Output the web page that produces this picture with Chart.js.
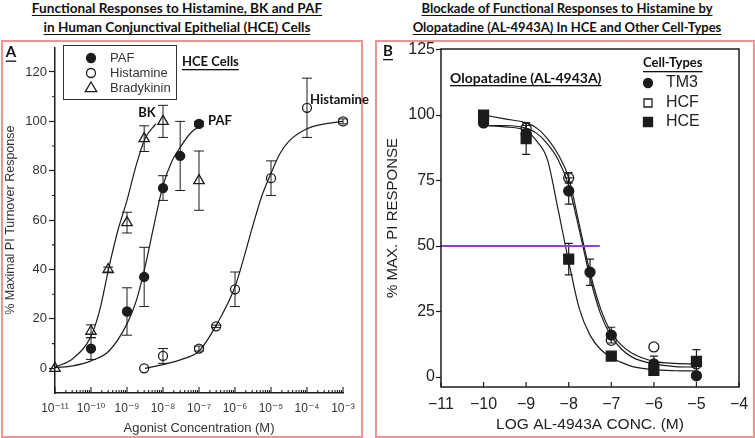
<!DOCTYPE html>
<html>
<head>
<meta charset="utf-8">
<title>Histamine responses and olopatadine blockade</title>
<script src="https://cdn.jsdelivr.net/npm/chart.js@4.4.1/dist/chart.umd.min.js"></script>
<style>
  body { margin: 0; width: 755px; height: 438px; background: #fff; position: relative; overflow: hidden; }
  .frame { position: absolute; top: 40px; height: 398px; box-sizing: border-box; border: 2px solid #f29393; }
  #frameA { left: 1px; width: 362px; }
  #frameB { left: 375px; width: 380px; }
  .title { position: absolute; top: -1px; text-align: center; color: #111;
           font-family: "Lato", sans-serif; font-weight: bold; line-height: 19px; }
  .title span { text-decoration: underline; text-decoration-thickness: 1px; text-underline-offset: 2px; }
  #titleA { left: 0; width: 354px; font-size: 13.6px; }
  #titleB { left: 380px; width: 374px; font-size: 13px; }
  canvas { position: absolute; top: 40px; }
  #chartA { left: 0; }
  #chartB { left: 376px; }
</style>
</head>
<body>
<div class="title" id="titleA"><span>Functional Responses to Histamine, BK and PAF</span><br><span>in Human Conjunctival Epithelial (HCE) Cells</span></div>
<div class="title" id="titleB"><span>Blockade of Functional Responses to Histamine by</span><br><span>Olopatadine (AL-4943A) In HCE and Other Cell-Types</span></div>
<div class="frame" id="frameA"></div>
<div class="frame" id="frameB"></div>
<canvas id="chartA" width="376" height="398"></canvas>
<canvas id="chartB" width="379" height="398"></canvas>
<script>
// #region data - panel A (agonist concentration in M)
const pafConc = [1e-10, 1e-9, 3e-9, 1e-8, 3e-8, 1e-7];
const pafResp = [8, 23, 37, 73, 86, 99];
const pafErr  = [4.4, 9.6, 12, 5, 14, 1];

const histConc = [3e-9, 1e-8, 1e-7, 3e-7, 1e-6, 1e-5, 1e-4, 1e-3];
const histResp = [0, 5, 8, 17, 32, 77, 105.5, 100];
const histErr  = [0, 3, 1, 0.5, 7, 7, 12, 1];

const bkConc = [1e-11, 1e-10, 3e-10, 1e-9, 3e-9, 1e-8, 1e-7];
const bkResp = [0, 15, 40, 59, 93, 100, 76];
const bkErr  = [0, 2.6, 1, 4.2, 5.2, 6.5, 12];

// fitted curves (log10 M -> %)
const bkFitExp  = [-11, -10.5, -10, -9.75, -9.5, -9.25, -9, -8.75, -8.5, -8.2];
const bkFitResp = [0.5, 4, 13, 24, 41, 56, 68, 82, 93, 99];
const pafFitExp  = [-11, -10.5, -10, -9.5, -9, -8.75, -8.5, -8.25, -8, -7.75, -7.5, -7.25, -7];
const pafFitResp = [0.3, 1, 3, 7, 18, 27, 41, 58, 74, 84, 90, 95, 98];
const histFitExp  = [-8.5, -8, -7.5, -7, -6.5, -6, -5.75, -5.5, -5.25, -5, -4.75, -4.5, -4, -3.5, -3];
const histFitResp = [0, 1.5, 3.5, 7, 18, 33, 45, 58, 70, 79, 87, 92, 97, 99, 100];

const xDecadesA = [-11, -10, -9, -8, -7, -6, -5, -4, -3];
const yTicksA = [0, 20, 40, 60, 80, 100, 120];
const yMinorA = [10, 30, 50, 70, 90, 110];
// #endregion

// #region data - panel B (log AL-4943A conc.)
const tm3Log  = [-10, -9, -8, -7.5, -7, -6, -5];
const tm3Resp = [97, 93, 71, 40, 16, 5, 0.5];
const tm3Err  = [1, 3, 5, 5, 3, 3, 1];

const cellLog = [-10, -9, -8, -7, -6, -5];
const hcfResp = [98, 95, 76, 14, 11.5, 5];
const hcfErr  = [0, 2, 2, 0, 0, 0];
const hceResp = [100, 91, 45, 8, 2.5, 6];
const hceErr  = [0, 6, 6, 0, 1, 4.5];

const fitLogB = [-10, -9.5, -9, -8.75, -8.5, -8.25, -8, -7.75, -7.5, -7.25, -7, -6.75, -6.5, -6, -5.5, -5];
const tm3Fit  = [96, 96, 95, 93, 89, 83, 73, 56, 38, 24, 15.5, 10.5, 7.5, 5, 4, 3.8];
const hcfFit  = [100, 98.5, 97, 95, 91, 85, 76, 58, 40, 26, 17, 12, 9, 6, 5.2, 5];
const hceFit  = [96, 95.5, 94, 90, 83, 64, 44, 26, 16, 10.5, 7.5, 5.5, 4, 2.8, 2.4, 2.3];

const halfLineX = [-11, -7.27];
const halfLineY = [50, 50];

const xTicksB = [-11, -10, -9, -8, -7, -6, -5, -4];
const yTicksB = [0, 25, 50, 75, 100, 125];
// #endregion

const INK = '#1c1c1c';
const SANS = '"Liberation Sans", "DejaVu Sans", sans-serif';
const BOLD = 'bold 13px "Lato", sans-serif';

Chart.defaults.font.family = SANS;
Chart.defaults.color = INK;
Chart.defaults.animation = false;
Chart.defaults.events = [];

const pts = (xs, ys) => xs.map((x, i) => ({ x, y: ys[i] }));
const SUP = { '-': '\u207B', '0': '\u2070', '1': '\u00B9', '2': '\u00B2', '3': '\u00B3', '4': '\u2074',
              '5': '\u2075', '6': '\u2076', '7': '\u2077', '8': '\u2078', '9': '\u2079' };
const sup = n => String(n).split('').map(c => SUP[c]).join('');

function curve(xs, ys) {
    return { data: pts(xs, ys), showLine: true, pointRadius: 0, borderColor: INK, borderWidth: 1.2,
             cubicInterpolationMode: 'monotone', fill: false };
}
function marks(xs, ys, errs, style, radius, filled) {
    return { data: pts(xs, ys), errors: errs, showLine: false, clip: false,
             pointStyle: style, pointRadius: radius, pointBorderWidth: 1.3,
             pointBorderColor: INK, pointBackgroundColor: filled ? INK : 'rgba(0,0,0,0)' };
}

function text(ctx, str, x, y, font, opts = {}) {
    ctx.save();
    ctx.font = font;
    ctx.fillStyle = opts.color || '#111';
    ctx.textAlign = opts.align || 'left';
    ctx.textBaseline = 'middle';
    ctx.fillText(str, x, y);
    if (opts.underline) {
        const w = ctx.measureText(str).width;
        const x0 = opts.align === 'center' ? x - w / 2 : x;
        ctx.fillRect(x0, y + opts.underline, w, 1.3);
    }
    ctx.restore();
}

function marker(ctx, style, x, y, r, filled) {
    ctx.save();
    ctx.beginPath();
    if (style === 'circle') ctx.arc(x, y, r, 0, Math.PI * 2);
    else if (style === 'rect') ctx.rect(x - r, y - r, 2 * r, 2 * r);
    else {
        ctx.moveTo(x, y - r);
        ctx.lineTo(x + r * 0.95, y + r * 0.6);
        ctx.lineTo(x - r * 0.95, y + r * 0.6);
        ctx.closePath();
    }
    ctx.lineWidth = 1.3;
    ctx.strokeStyle = INK;
    if (filled) { ctx.fillStyle = INK; ctx.fill(); }
    ctx.stroke();
    ctx.restore();
}

// error bars from dataset.errors, drawn under the markers
const errorBars = {
    id: 'errorBars',
    beforeDatasetsDraw(chart, args, opts) {
        const { ctx, scales: { x, y } } = chart;
        ctx.save();
        ctx.strokeStyle = INK;
        ctx.lineWidth = opts.width || 1;
        chart.data.datasets.forEach(ds => {
            if (!ds.errors) return;
            ds.data.forEach((p, i) => {
                const e = ds.errors[i];
                if (!e) return;
                const px = x.getPixelForValue(p.x);
                const top = y.getPixelForValue(p.y + e), bot = y.getPixelForValue(p.y - e);
                ctx.beginPath();
                ctx.moveTo(px, top); ctx.lineTo(px, bot);
                ctx.moveTo(px - opts.cap, top); ctx.lineTo(px + opts.cap, top);
                ctx.moveTo(px - opts.cap, bot); ctx.lineTo(px + opts.cap, bot);
                ctx.stroke();
            });
        });
        ctx.restore();
    }
};

const panelA = {
    id: 'panelA',
    afterDraw(chart) {
        const { ctx, scales: { x, y }, chartArea: a } = chart;
        ctx.save();
        ctx.strokeStyle = INK;
        ctx.lineWidth = 1.1;
        ctx.beginPath();
        xDecadesA.forEach((n, j) => {
            const last = j === xDecadesA.length - 1;
            for (let k = 1; k <= (last ? 1 : 9); k++) {
                const px = x.getPixelForValue(k * 10 ** n);
                ctx.moveTo(px, a.bottom);
                ctx.lineTo(px, a.bottom - (k === 1 ? 6 : 3));
            }
        });
        yMinorA.forEach(v => {
            const py = y.getPixelForValue(v);
            ctx.moveTo(a.left, py); ctx.lineTo(a.left - 3, py);
        });
        ctx.stroke();

        // legend box
        ctx.lineWidth = 1;
        ctx.strokeStyle = '#333';
        ctx.strokeRect(63.5, 5.5, 113, 54);
        ctx.restore();
        const lf = '13px ' + SANS;
        marker(ctx, 'circle', 91, 18, 4.5, true);
        text(ctx, 'PAF', 110, 18, lf, { color: '#333' });
        marker(ctx, 'circle', 91, 33, 4.5, false);
        text(ctx, 'Histamine', 110, 33, lf, { color: '#333' });
        marker(ctx, 'triangle', 91, 48, 6, false);
        text(ctx, 'Bradykinin', 110, 48, lf, { color: '#333' });

        text(ctx, 'A', 11, 12.5, 'bold 15px "Lato", sans-serif', { align: 'center', underline: 8 });
        text(ctx, 'HCE Cells', 182, 22, BOLD, { underline: 7 });
        text(ctx, 'BK', 147, 73, BOLD, { align: 'center' });
        text(ctx, 'PAF', 208, 81, BOLD);
        text(ctx, 'Histamine', 310, 60, BOLD);
    }
};

const panelB = {
    id: 'panelB',
    afterDraw(chart) {
        const { ctx, scales: { x }, chartArea: a } = chart;
        ctx.save();
        ctx.strokeStyle = INK;
        ctx.lineWidth = 1.5;
        ctx.strokeRect(a.left, a.top, a.right - a.left, a.bottom - a.top);
        ctx.lineWidth = 1.2;
        ctx.beginPath();
        xTicksB.forEach(v => {
            const px = x.getPixelForValue(v);
            ctx.moveTo(px, a.bottom); ctx.lineTo(px, a.bottom - 5);
        });
        ctx.stroke();
        ctx.restore();

        text(ctx, 'B', 12, 11, 'bold 15px "Lato", sans-serif', { align: 'center', underline: 8 });
        text(ctx, 'Olopatadine (AL-4943A)', 74, 38, 'bold 14px "Lato", sans-serif', { underline: 7 });
        text(ctx, 'Cell-Types', 267, 23, BOLD, { underline: 8 });
        const lf = '16px ' + SANS;
        marker(ctx, 'circle', 272, 43, 4.5, true);
        text(ctx, 'TM3', 290, 43, lf, { color: '#222' });
        marker(ctx, 'rect', 272, 63, 4, false);
        text(ctx, 'HCF', 290, 63, lf, { color: '#222' });
        marker(ctx, 'rect', 272, 82, 4.5, true);
        text(ctx, 'HCE', 290, 82, lf, { color: '#222' });
    }
};

new Chart(document.getElementById('chartA'), {
    type: 'scatter',
    data: {
        datasets: [
            curve(bkFitExp.map(e => 10 ** e), bkFitResp),
            curve(pafFitExp.map(e => 10 ** e), pafFitResp),
            curve(histFitExp.map(e => 10 ** e), histFitResp),
            marks(pafConc, pafResp, pafErr, 'circle', 4.5, true),
            marks(histConc, histResp, histErr, 'circle', 4.5, false),
            marks(bkConc, bkResp, bkErr, 'triangle', 6, false)
        ]
    },
    options: {
        responsive: false,
        layout: { padding: { top: 5.8, right: 33, left: 0, bottom: 0 } },
        plugins: { legend: { display: false }, tooltip: { enabled: false }, errorBars: { cap: 5, width: 1 } },
        scales: {
            x: {
                type: 'logarithmic', min: 1e-11, max: 1e-3,
                afterBuildTicks: s => { s.ticks = xDecadesA.map(n => ({ value: 10 ** n })); },
                afterFit: s => { s.height = 45; s.paddingLeft = 0; s.paddingRight = 0; },
                grid: { display: false, drawTicks: false },
                border: { display: true, color: INK, width: 1.5 },
                ticks: { padding: 8, autoSkip: false, maxRotation: 0, color: '#333', font: { size: 12 },
                         callback: v => '10' + sup(Math.round(Math.log10(v))) },
                title: { display: true, text: 'Agonist Concentration (M)', color: '#333',
                         font: { size: 13 }, padding: { top: 0, bottom: 2 } }
            },
            y: {
                min: -10, max: 130,
                afterBuildTicks: s => { s.ticks = yTicksA.map(v => ({ value: v })); },
                afterFit: s => { s.width = 55; s.paddingTop = 0; s.paddingBottom = 0; },
                grid: { drawOnChartArea: false, tickLength: 6, tickColor: INK, tickWidth: 1.2 },
                border: { display: true, color: INK, width: 1.5 },
                ticks: { padding: 2, color: '#333', font: { size: 13 } },
                title: { display: true, text: '% Maximal PI Turnover Response', color: '#333',
                         font: { size: 12.5 }, padding: { top: 3, bottom: 0 } }
            }
        }
    },
    plugins: [errorBars, panelA]
});

new Chart(document.getElementById('chartB'), {
    type: 'scatter',
    data: {
        datasets: [
            { data: pts(halfLineX, halfLineY), showLine: true, pointRadius: 0,
              borderColor: '#8e44c9', borderWidth: 2 },
            curve(fitLogB, tm3Fit),
            curve(fitLogB, hcfFit),
            curve(fitLogB, hceFit),
            marks(cellLog, hcfResp, hcfErr, 'circle', 5, false),
            marks(tm3Log, tm3Resp, tm3Err, 'circle', 5, true),
            marks(cellLog, hceResp, hceErr, 'rect', 7, true)
        ]
    },
    options: {
        responsive: false,
        layout: { padding: { top: 9, right: 16, left: 0, bottom: 0 } },
        plugins: { legend: { display: false }, tooltip: { enabled: false }, errorBars: { cap: 4, width: 1.2 } },
        scales: {
            x: {
                min: -11, max: -4,
                afterBuildTicks: s => { s.ticks = xTicksB.map(v => ({ value: v })); },
                afterFit: s => { s.height = 51; s.paddingLeft = 0; s.paddingRight = 0; },
                grid: { display: false, drawTicks: false },
                border: { display: false },
                ticks: { padding: 8, autoSkip: false, maxRotation: 0, color: '#222', font: { size: 16 },
                         callback: v => (v < 0 ? '\u2212' + Math.abs(v) : String(v)) },
                title: { display: true, text: 'LOG AL-4943A CONC. (M)', color: '#222',
                         font: { size: 15.5 }, padding: { top: 0, bottom: 4 } }
            },
            y: {
                min: -3.8, max: 125.2,
                afterBuildTicks: s => { s.ticks = yTicksB.map(v => ({ value: v })); },
                afterFit: s => { s.width = 65; s.paddingTop = 0; s.paddingBottom = 0; },
                grid: { drawOnChartArea: false, tickLength: 5, tickColor: INK, tickWidth: 1.2 },
                border: { display: false },
                ticks: { padding: 1, color: '#222', font: { size: 16 } },
                title: { display: true, text: '% MAX. PI RESPONSE', color: '#222',
                         font: { size: 15 }, padding: { top: 8, bottom: 0 } }
            }
        }
    },
    plugins: [errorBars, panelB]
});
</script>
</body>
</html>
